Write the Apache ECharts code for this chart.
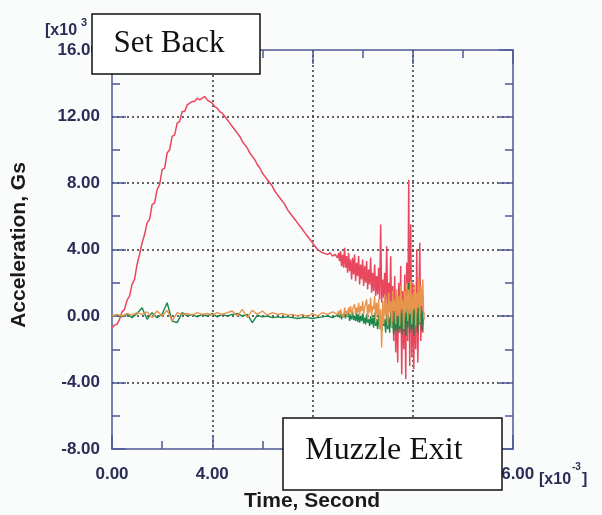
<!DOCTYPE html>
<html>
<head>
<meta charset="utf-8">
<script src="https://cdn.jsdelivr.net/npm/echarts@6/dist/echarts.min.js"></script>
<style>
  html, body { margin: 0; padding: 0; background: #fafbfb; }
  #chart { width: 602px; height: 515px; }
</style>
</head>
<body>
<div id="chart"></div>
<script>
// time axis in units of 1e-3 s, acceleration in units of 1e3 G
const xTicks = [0, 4, 8, 12, 16];
const yTicks = [-8, -4, 0, 4, 8, 12, 16];

// sampling: coarse part from t=0, fine part from t=9.04
const coarseStepRed = 0.1;
const coarseStep = 0.2;
const fineStart = 9.04;
const fineStep = 0.04;

// set-back channel (red)
const redCoarse = [
  -0.7, -0.55, -0.5, -0.2, 0.25, 0.4, 0.95, 1.2, 1.9, 2.2,
  3.1, 3.7, 4.4, 4.9, 5.6, 5.8, 6.7, 6.8, 7.6, 7.9,
  8.8, 8.9, 9.8, 10.0, 10.8, 10.9, 11.6, 11.7, 12.3, 12.3,
  12.7, 12.8, 12.9, 12.9, 13.1, 13.0, 13.1, 13.2, 13.0, 12.9,
  12.8, 12.6, 12.5, 12.3, 12.2, 12.0, 11.8, 11.6, 11.4, 11.2,
  11.0, 10.8, 10.5, 10.3, 10.1, 9.8, 9.6, 9.4, 9.1, 8.9,
  8.6, 8.4, 8.2, 8.0, 7.8, 7.5, 7.3, 7.1, 6.9, 6.7,
  6.4, 6.2, 6.0, 5.8, 5.6, 5.4, 5.2, 5.0, 4.8, 4.6,
  4.4, 4.2, 4.0, 3.9, 3.8, 3.75, 3.7, 3.8, 3.6, 3.7,
  3.5
];
const redFine = [
  3.8, 3.3, 3.9, 3.0, 3.7, 2.9, 4.1, 2.9, 3.6, 2.6,
  3.8, 2.7, 3.4, 2.2, 3.5, 2.5, 3.7, 2.1, 3.2, 2.4,
  3.6, 1.9, 3.1, 2.2, 3.4, 1.8, 3.0, 2.0, 3.3, 1.6,
  2.8, 1.9, 3.5, 1.4, 2.6, 1.5, 3.1, 1.2, 2.4, 1.3,
  2.9, 1.0, 5.5, 0.8, 2.2, 1.1, 2.6, 0.7, 4.2, 0.5,
  2.0, 0.3, 3.6, -0.5, 1.8, -1.5, 2.4, -2.2, 1.2, -2.8,
  2.0, -1.0, 3.0, -3.5, 1.5, -2.0, 2.5, -3.8, 3.2, -1.5,
  8.2, -3.0, 5.5, -2.5, 2.0, -3.2, 1.0, -2.0, 4.0, -2.8,
  0.5, 4.4, -1.5, 0.8, -1.0, 0.2
];

// green channel
const greenCoarse = [
  0.0, 0.05, -0.05, 0.1, -0.1, 0.15, 0.5, -0.2, 0.2, -0.1,
  0.1, 0.8, -0.3, -0.4, 0.2, 0.0, 0.1, -0.05, 0.1, 0.0,
  0.15, -0.05, 0.1, 0.0, 0.1, 0.15, 0.0, 0.1, -0.4, 0.05,
  -0.05, 0.0, -0.1, -0.05, -0.1, -0.05, -0.1, -0.15, -0.1, -0.1,
  -0.15, -0.1, -0.05, 0.0, -0.1, 0.05
];
const greenFine = [
  0.2, -0.1, 0.3, -0.2, 0.1, -0.1, 0.25, -0.15, 0.3, 0.0,
  0.2, -0.3, 0.1, -0.2, 0.3, -0.25, 0.0, -0.3, 0.2, -0.35,
  0.1, -0.4, 0.0, -0.3, 0.15, -0.45, -0.1, -0.5, 0.1, -0.4,
  -0.2, -0.6, 0.0, -0.5, -0.1, -0.7, 0.2, -0.6, -0.2, -0.8,
  0.1, -0.7, -0.3, -0.9, 0.3, -0.6, -0.2, -1.0, 0.2, -0.8,
  -0.1, -1.0, 0.4, -0.7, -0.3, -1.1, 0.3, -0.9, 0.0, -1.0,
  0.5, -0.8, 0.2, -1.1, 0.6, -0.9, 0.0, -1.2, 1.0, -0.7,
  2.0, -1.0, 1.2, -0.8, 0.4, -1.2, 0.8, -0.6, 0.2, -1.0,
  1.0, -0.5, 0.6, -0.9, 0.3, -0.2
];

// orange channel
const orangeCoarse = [
  0.0, 0.1, 0.0, 0.15, 0.05, 0.2, 0.1, 0.25, -0.1, 0.3,
  0.0, 0.35, -0.3, 0.2, 0.1, 0.15, 0.05, 0.2, 0.1, 0.15,
  0.05, 0.2, 0.1, 0.2, 0.3, 0.0, 0.4, -0.1, 0.35, 0.1,
  0.3, 0.05, 0.2, 0.1, 0.15, 0.05, 0.1, 0.0, 0.1, -0.05,
  0.15, 0.0, 0.2, 0.1, 0.25, 0.1
];
const orangeFine = [
  0.3, 0.0, 0.4, 0.1, 0.2, -0.1, 0.5, 0.1, 0.3, 0.0,
  0.5, 0.2, 0.6, 0.0, 0.4, 0.3, 0.7, 0.1, 0.5, 0.2,
  0.8, 0.0, 0.6, 0.3, 0.9, 0.1, 0.5, 0.4, 1.0, -0.2,
  0.7, 0.2, 1.1, 0.0, 0.6, 0.4, 1.2, -0.4, 0.8, 0.1,
  1.0, -0.8, 0.4, -1.9, 0.9, -0.5, 1.3, 0.0, 0.7, -0.6,
  1.4, 0.2, 0.9, -0.7, 1.5, 0.3, 1.0, -0.5, 1.6, 0.0,
  1.2, -0.6, 1.8, 0.4, 1.0, -0.8, 1.5, 0.2, 2.0, -0.3,
  1.6, 0.1, 2.1, -0.5, 1.3, 0.4, 1.9, -0.6, 1.4, 0.5,
  2.3, -0.4, 1.8, 0.6, 2.2, -0.2
];

function toPairs(coarse, step, fine) {
  const out = coarse.map((v, i) => [+(i * step).toFixed(3), v]);
  fine.forEach((v, i) => out.push([+(fineStart + i * fineStep).toFixed(3), v]));
  return out;
}

const axisColor = "#4d5898";
const labelColor = "#2a2d55";
const sans = "'Liberation Sans', Arial, sans-serif";
const serif = "'Liberation Serif', 'Times New Roman', serif";

function axisCommon(showLabel, margin) {
  return {
    type: "value",
    axisLine: { show: true, onZero: false, lineStyle: { color: axisColor, width: 1.5 } },
    axisTick: { show: true, inside: true, length: 14, lineStyle: { color: axisColor, width: 1.5 } },
    minorTick: { show: true, splitNumber: 2, length: 8, lineStyle: { color: axisColor, width: 1.5 } },
    axisLabel: {
      show: showLabel,
      margin: margin,
      color: labelColor,
      fontFamily: sans,
      fontWeight: "bold",
      fontSize: 17,
      formatter: (v) => v.toFixed(2),
    },
  };
}

const chart = echarts.init(document.getElementById("chart"), null, { renderer: "canvas" });

chart.setOption({
  backgroundColor: "#fafbfb",
  animation: false,
  grid: { left: 112, right: 89, top: 50, bottom: 66 },
  xAxis: [
    {
      ...axisCommon(true, 17),
      position: "bottom",
      min: xTicks[0],
      max: xTicks[xTicks.length - 1],
      interval: xTicks[1] - xTicks[0],
      splitLine: {
        show: true, showMinLine: false, showMaxLine: false,
        lineStyle: { color: "#333", width: 1.5, type: [2, 3] },
      },
    },
    {
      ...axisCommon(false, 0),
      position: "top",
      min: xTicks[0],
      max: xTicks[xTicks.length - 1],
      interval: xTicks[1] - xTicks[0],
      splitLine: { show: false },
    },
  ],
  yAxis: [
    {
      ...axisCommon(true, 12),
      position: "left",
      min: yTicks[0],
      max: yTicks[yTicks.length - 1],
      interval: yTicks[1] - yTicks[0],
      splitLine: {
        show: true, showMinLine: false, showMaxLine: false,
        lineStyle: { color: "#333", width: 1.5, type: [2, 3] },
      },
    },
    {
      ...axisCommon(false, 0),
      position: "right",
      min: yTicks[0],
      max: yTicks[yTicks.length - 1],
      interval: yTicks[1] - yTicks[0],
      splitLine: { show: false },
    },
  ],
  series: [
    {
      name: "Set Back",
      type: "line",
      showSymbol: false,
      data: toPairs(redCoarse, coarseStepRed, redFine),
      lineStyle: { color: "#e8475e", width: 1.5 },
    },
    {
      name: "Lateral 1",
      type: "line",
      showSymbol: false,
      data: toPairs(greenCoarse, coarseStep, greenFine),
      lineStyle: { color: "#17884a", width: 1.4 },
    },
    {
      name: "Lateral 2",
      type: "line",
      showSymbol: false,
      data: toPairs(orangeCoarse, coarseStep, orangeFine),
      lineStyle: { color: "#e8944c", width: 1.4 },
    },
  ],
  graphic: [
    // y-axis title
    {
      type: "text", x: 19, y: 245, rotation: Math.PI / 2, z: 10,
      style: {
        text: "Acceleration, Gs", fill: "#1a1a1a",
        font: "bold 21px " + sans, align: "center", verticalAlign: "middle",
      },
    },
    // x-axis title
    {
      type: "text", x: 312, y: 501, z: 10,
      style: {
        text: "Time, Second", fill: "#1a1a1a",
        font: "bold 21px " + sans, align: "center", verticalAlign: "middle",
      },
    },
    // y multiplier
    {
      type: "text", x: 45, y: 31, z: 10,
      style: { text: "[x10", fill: labelColor, font: "bold 16px " + sans, align: "left", verticalAlign: "middle" },
    },
    {
      type: "text", x: 81, y: 23, z: 10,
      style: { text: "3", fill: labelColor, font: "bold 11px " + sans, align: "left", verticalAlign: "middle" },
    },
    // x multiplier
    {
      type: "text", x: 539, y: 480, z: 10,
      style: { text: "[x10", fill: labelColor, font: "bold 16px " + sans, align: "left", verticalAlign: "middle" },
    },
    {
      type: "text", x: 572, y: 467, z: 10,
      style: { text: "-3", fill: labelColor, font: "bold 10px " + sans, align: "left", verticalAlign: "middle" },
    },
    {
      type: "text", x: 582, y: 480, z: 10,
      style: { text: "]", fill: labelColor, font: "bold 16px " + sans, align: "left", verticalAlign: "middle" },
    },
    // annotation boxes (drawn over the axis labels)
    {
      type: "rect", zlevel: 1, z: 100, shape: { x: 92, y: 14, width: 168, height: 60 },
      style: { fill: "#ffffff", stroke: "#111", lineWidth: 1.5 },
    },
    {
      type: "text", zlevel: 1, z: 101, x: 169, y: 44,
      style: { text: "Set Back", fill: "#111", font: "31px " + serif, align: "center", verticalAlign: "middle" },
    },
    {
      type: "rect", zlevel: 1, z: 100, shape: { x: 283, y: 418, width: 219, height: 72 },
      style: { fill: "#ffffff", stroke: "#111", lineWidth: 1.5 },
    },
    {
      type: "text", zlevel: 1, z: 101, x: 384, y: 451,
      style: { text: "Muzzle Exit", fill: "#111", font: "32px " + serif, align: "center", verticalAlign: "middle" },
    },
  ],
});
</script>
</body>
</html>
